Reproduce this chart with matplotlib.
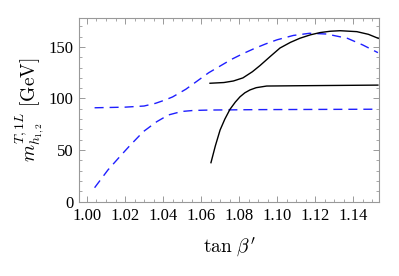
import matplotlib
matplotlib.use('Agg')
import matplotlib.pyplot as plt
from matplotlib.ticker import MultipleLocator, FormatStrFormatter

plt.rcParams['mathtext.fontset'] = 'cm'

# blue dashed, upper branch
x_d1 = [1.004, 1.020, 1.030, 1.036, 1.041, 1.045, 1.052, 1.058, 1.064, 1.070, 1.076, 1.082,
        1.088, 1.094, 1.100, 1.1085, 1.117, 1.126, 1.137, 1.145, 1.153]
y_d1 = [91.0, 91.6, 92.7, 95.3, 98.5, 101.5, 109.0, 117.0, 125.0, 131.5, 138.0, 143.5,
        148.5, 153.0, 157.0, 161.2, 163.3, 162.6, 158.4, 152.0, 144.5]

# blue dashed, lower branch
x_d2 = [1.004, 1.011, 1.0165, 1.022, 1.0296, 1.0367, 1.0428, 1.0498, 1.056, 1.0647, 1.090, 1.153]
y_d2 = [13.4, 30.6, 42.0, 53.2, 67.8, 77.5, 84.0, 87.4, 88.4, 88.8, 89.2, 89.6]

# black solid, upper branch
x_s1 = [1.0647, 1.0720, 1.0770, 1.0820, 1.0870, 1.0910, 1.0965, 1.1015, 1.107, 1.112, 1.1175,
        1.1226, 1.128, 1.1331, 1.1419, 1.148, 1.1532]
y_s1 = [114.8, 115.5, 117.0, 120.0, 126.0, 132.0, 141.0, 149.0, 154.5, 158.5, 161.8,
        164.0, 165.3, 165.8, 164.9, 162.3, 158.4]

# black solid, lower branch
x_s2 = [1.0652, 1.0675, 1.070, 1.0725, 1.0752, 1.078, 1.0805, 1.083, 1.0857, 1.089, 1.0945, 1.112, 1.153]
y_s2 = [37.7, 54.0, 69.4, 80.0, 89.5, 96.5, 101.7, 105.5, 108.3, 110.5, 112.1, 112.4, 113.0]

fig = plt.figure(figsize=(3.99, 2.76), dpi=100)
ax = fig.add_axes([0.198, 0.268, 0.752, 0.667])

ax.plot(x_d1, y_d1, color='#1f1fff', lw=1.0, ls=(0, (6.5, 4.3)))
ax.plot(x_d2, y_d2, color='#1f1fff', lw=1.0, ls=(0, (6.5, 4.3)))
ax.plot(x_s1, y_s1, color='black', lw=1.0)
ax.plot(x_s2, y_s2, color='black', lw=1.0)

ax.set_xlim(0.9958, 1.1536)
ax.set_ylim(-0.5, 178.2)
ax.xaxis.set_major_locator(MultipleLocator(0.02))
ax.xaxis.set_minor_locator(MultipleLocator(0.005))
ax.yaxis.set_major_locator(MultipleLocator(50))
ax.yaxis.set_minor_locator(MultipleLocator(10))
ax.xaxis.set_major_formatter(FormatStrFormatter('%.2f'))

for s in ax.spines.values():
    s.set_color('#999999')
    s.set_linewidth(0.8)
ax.tick_params(which='both', direction='in', top=True, right=True, color='#999999')
ax.tick_params(which='major', length=4.5, width=0.7, pad=4)
ax.tick_params(which='minor', length=2.5, width=0.6)
for lab in ax.get_xticklabels() + ax.get_yticklabels():
    lab.set_fontfamily('Liberation Serif')
    lab.set_fontsize(12)

ax.set_xlabel(r"$\tan\,\beta'$", fontsize=14, labelpad=9)
ax.set_ylabel(r"$m_{h_{1,2}}^{T,1L}\ \mathrm{[GeV]}$", fontsize=14, labelpad=1)

fig.savefig('out.png', dpi=100)
